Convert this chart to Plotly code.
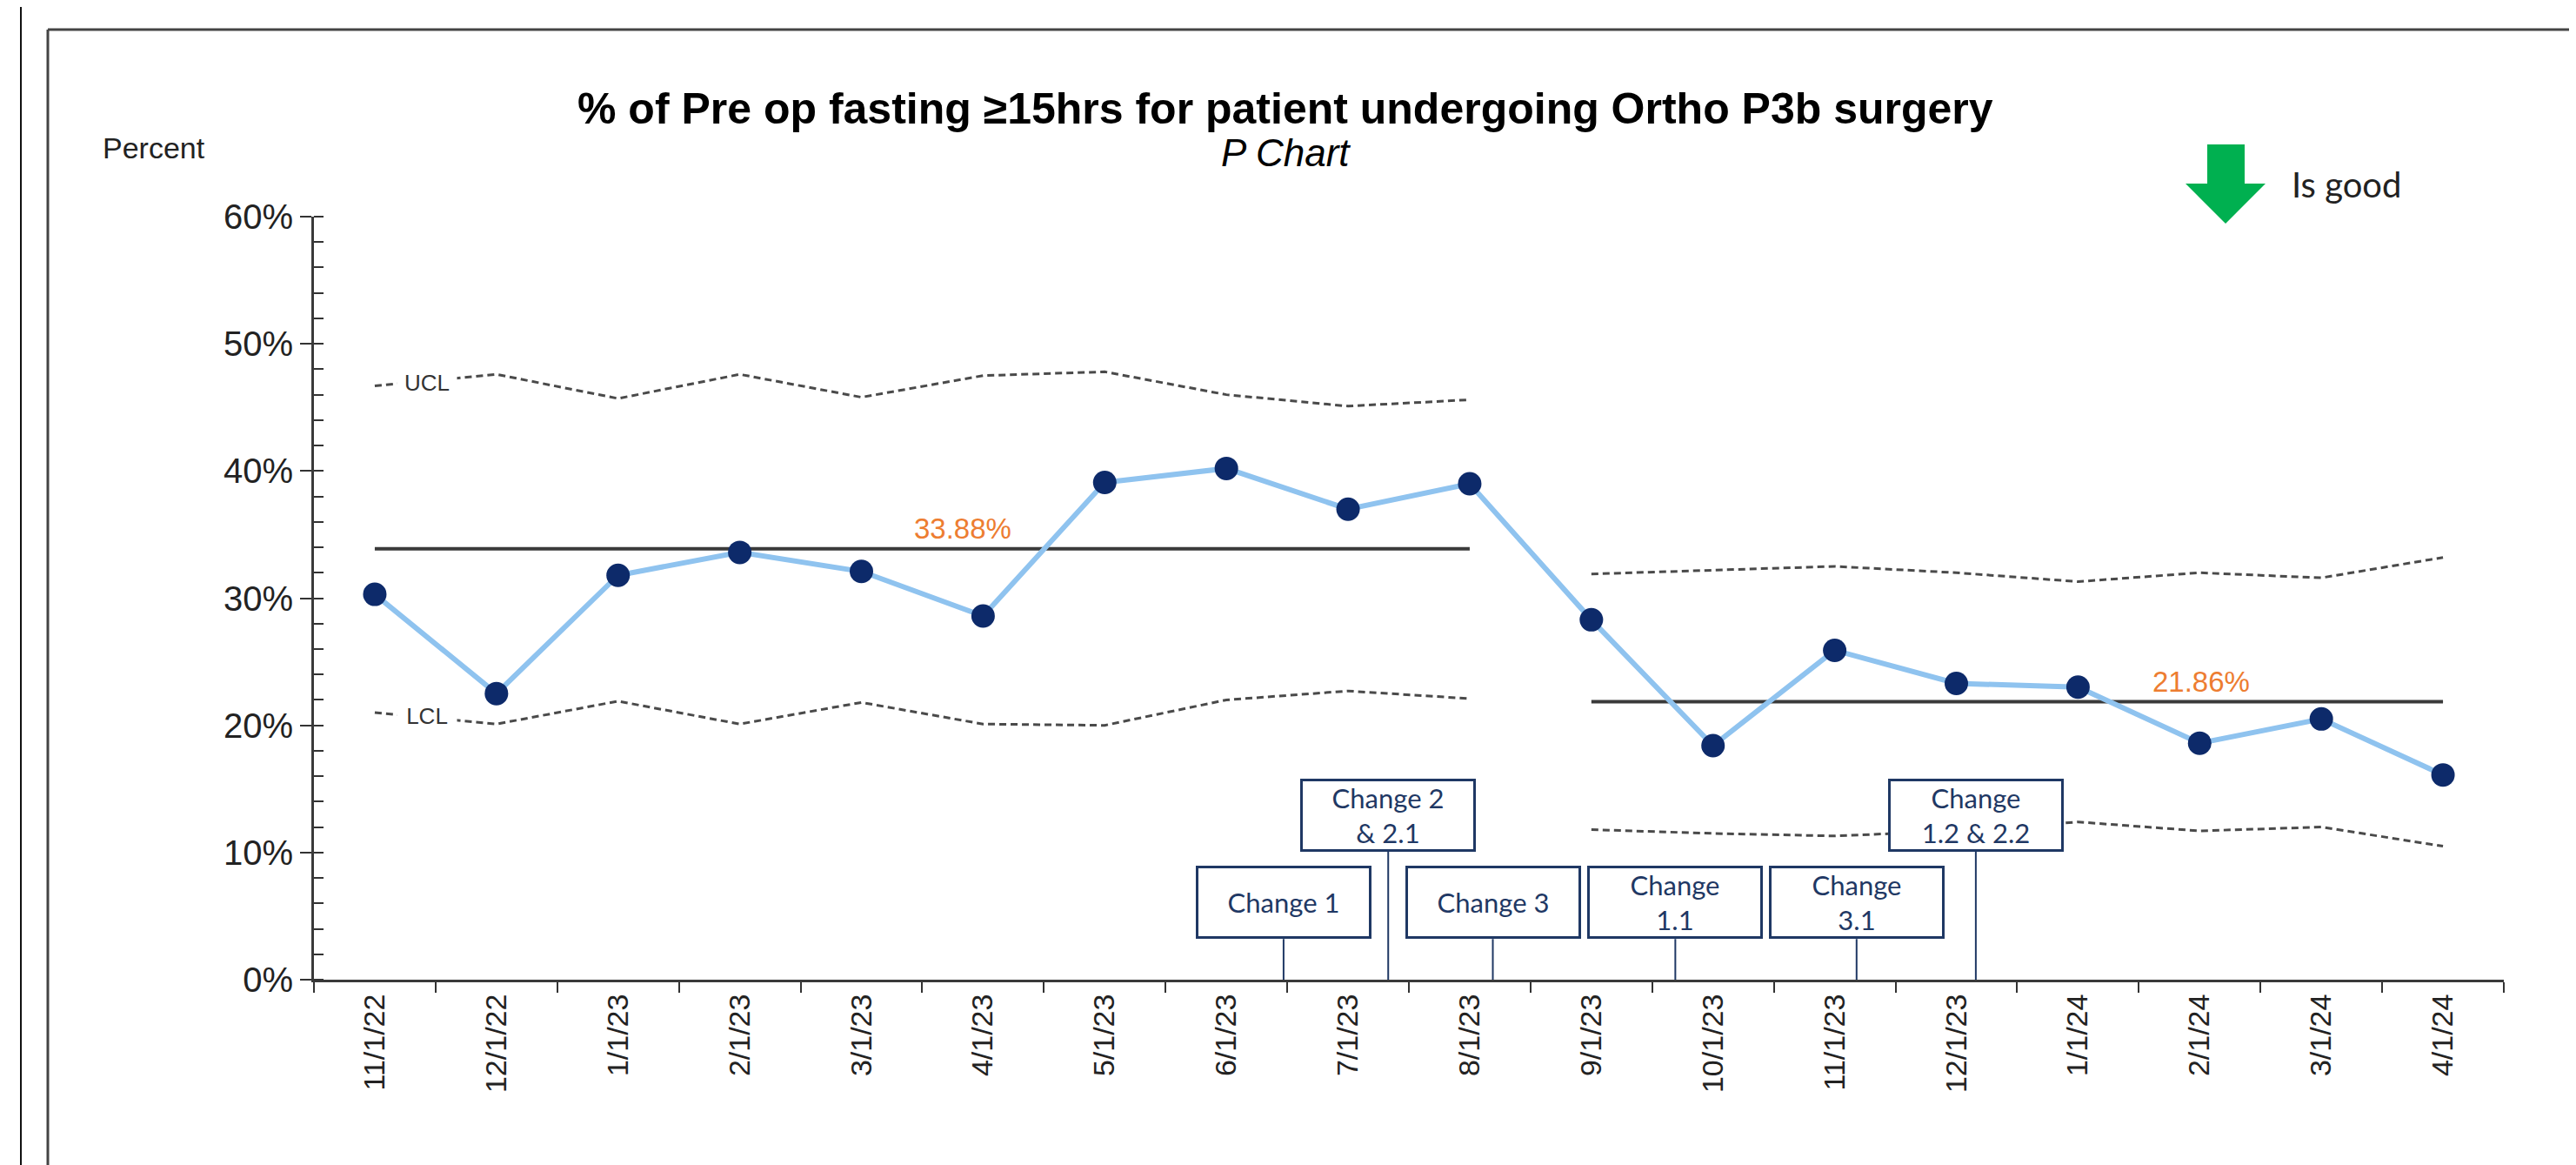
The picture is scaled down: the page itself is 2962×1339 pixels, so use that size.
import plotly.graph_objects as go

# ---------------- data ----------------
months = ["11/1/22", "12/1/22", "1/1/23", "2/1/23", "3/1/23", "4/1/23", "5/1/23", "6/1/23",
          "7/1/23", "8/1/23", "9/1/23", "10/1/23", "11/1/23", "12/1/23", "1/1/24", "2/1/24",
          "3/1/24", "4/1/24"]
percent = [30.3, 22.5, 31.8, 33.6, 32.1, 28.6, 39.1, 40.2, 37.0, 39.0,
           28.3, 18.4, 25.9, 23.3, 23.0, 18.6, 20.5, 16.1]
ucl = [46.7, 47.6, 45.7, 47.6, 45.8, 47.5, 47.8, 46.0, 45.1, 45.6,
       31.9, 32.2, 32.5, 32.0, 31.3, 32.0, 31.6, 33.2]
lcl = [21.0, 20.1, 21.9, 20.1, 21.8, 20.1, 20.0, 22.0, 22.7, 22.1,
       11.8, 11.5, 11.3, 11.7, 12.4, 11.7, 12.0, 10.5]
phase_split = 10              # phase 1 = first 10 months, phase 2 = the rest
center_values = [33.88, 21.86]
center_labels = ["33.88%", "21.86%"]

change_names = ["Change 1", "Change 2<br>& 2.1", "Change 3", "Change<br>1.1", "Change<br>3.1",
                "Change<br>1.2 & 2.2"]
change_pos = [7.47, 8.33, 9.19, 10.69, 12.18, 13.16]     # position along the month axis
change_level = ["low", "high", "low", "low", "low", "high"]

y_ticks = [0, 10, 20, 30, 40, 50, 60]

# ---------------- layout constants ----------------
W, H = 2962, 1339
OFF = 8                       # page body margin offset
# target positions (page pixels) of the plot area
PL, PR, PT, PB = 361, 2879, 249, 1126
ML = PL - OFF
MT = PT - OFF
MR = W - (PR - OFF)
MB = H - (PB - OFF)
PW, PH = PR - PL, PB - PT
FONT = "Liberation Sans, Arial, sans-serif"
BOXFONT = "Lato, Carlito, Calibri, sans-serif"
NAVY = "#1F3864"


def px(x):
    return (x - PL) / PW


def py(y):
    return (PB - y) / PH


fig = go.Figure()

p1 = months[:phase_split]
p2 = months[phase_split:]

# control limits (dashed)
for lim in (ucl, lcl):
    for xs, ys in ((p1, lim[:phase_split]), (p2, lim[phase_split:])):
        fig.add_trace(go.Scatter(x=xs, y=ys, mode="lines", hoverinfo="skip",
                                 line=dict(color="#4a4a4a", width=3, dash="8px,5px")))

# centre lines
for xs, cv in ((p1, center_values[0]), (p2, center_values[1])):
    fig.add_trace(go.Scatter(x=xs, y=[cv] * len(xs), mode="lines", hoverinfo="skip",
                             line=dict(color="#3a3a3a", width=4)))

# data
fig.add_trace(go.Scatter(x=months, y=percent, mode="lines+markers",
                         line=dict(color="#8FC3EF", width=6),
                         marker=dict(color="#0D2A6A", size=27)))

shapes = []
annotations = []

# change connectors + boxes
box_center = {"low": 6.07, "high": 12.95}
box_half = 2.87
for name, xp, lev in zip(change_names, change_pos, change_level):
    shapes.append(dict(type="line", xref="x", yref="y", x0=xp, x1=xp,
                       y0=box_center[lev] - box_half, y1=-0.45,
                       line=dict(color=NAVY, width=2)))
    annotations.append(dict(x=xp, y=box_center[lev], xref="x", yref="y", text=name,
                            xanchor="center", yanchor="middle",
                            showarrow=False, width=196, height=78, align="center",
                            valign="middle", bgcolor="white", bordercolor=NAVY,
                            borderwidth=3, borderpad=0,
                            font=dict(family=BOXFONT, size=31, color=NAVY)))

# UCL / LCL labels
for lab, yv in (("UCL", 46.9), ("LCL", 20.7)):
    annotations.append(dict(x=0.43, y=yv, xref="x", yref="y", text=lab, showarrow=False,
                            xanchor="center", yanchor="middle", bgcolor="white", width=66,
                            font=dict(family=FONT, size=26, color="#333")))

# centre line values
annotations.append(dict(x=4.83, y=35.5, xref="x", yref="y", text=center_labels[0],
                        xanchor="center", yanchor="middle", showarrow=False,
                        font=dict(family=FONT, size=33, color="#ED7D31")))
annotations.append(dict(x=15.01, y=23.45, xref="x", yref="y", text=center_labels[1],
                        xanchor="center", yanchor="middle", showarrow=False,
                        font=dict(family=FONT, size=33, color="#ED7D31")))

# titles
annotations.append(dict(x=px(1478), y=py(125), xref="paper", yref="paper",
                        xanchor="center", yanchor="middle",
                        text="<b>% of Pre op fasting ≥15hrs for patient undergoing Ortho P3b surgery</b>",
                        showarrow=False, font=dict(family=FONT, size=50, color="black")))
annotations.append(dict(x=px(1478), y=py(176), xref="paper", yref="paper",
                        xanchor="center", yanchor="middle",
                        text="<i>P Chart</i>", showarrow=False,
                        font=dict(family=FONT, size=44, color="black")))
annotations.append(dict(x=px(177), y=py(170), xref="paper", yref="paper", text="Percent",
                        xanchor="center", yanchor="middle",
                        showarrow=False, font=dict(family=FONT, size=34, color="#222")))
annotations.append(dict(x=px(2633), y=py(212), xref="paper", yref="paper", text="Is good",
                        xanchor="left", yanchor="middle", showarrow=False,
                        font=dict(family=BOXFONT, size=40, color="#222")))

# green arrow
arrow_pts = [(2538, 166), (2581, 166), (2581, 211), (2605, 211), (2559, 257), (2513, 211),
             (2538, 211)]
path = "M " + " L ".join(f"{px(a):.5f},{py(b):.5f}" for a, b in arrow_pts) + " Z"
shapes.append(dict(type="path", xref="paper", yref="paper", path=path,
                   fillcolor="#00B050", line=dict(width=0)))

# frames
shapes.append(dict(type="line", xref="paper", yref="paper", x0=px(24), x1=px(24),
                   y0=py(0), y1=py(H + 10), line=dict(color="#111", width=2)))
shapes.append(dict(type="line", xref="paper", yref="paper", x0=px(55), x1=px(55),
                   y0=py(34), y1=py(H + 10), line=dict(color="#444", width=3)))
shapes.append(dict(type="line", xref="paper", yref="paper", x0=px(55), x1=px(2961),
                   y0=py(34), y1=py(34), line=dict(color="#444", width=3)))

fig.update_layout(
    width=W, height=H, margin=dict(l=ML, r=MR, t=MT, b=MB),
    paper_bgcolor="white", plot_bgcolor="white", showlegend=False,
    shapes=shapes, annotations=annotations,
    font=dict(family=FONT, color="#222"),
)
fig.update_xaxes(type="category", categoryorder="array", categoryarray=months,
                 range=[-0.5, len(months) - 0.5], tickson="boundaries", ticks="outside",
                 ticklen=12, tickwidth=2, tickcolor="#333", tickangle=-90,
                 showline=True, linewidth=3, linecolor="#3a3a3a", showgrid=False,
                 tickfont=dict(family=FONT, size=34, color="#222"))
fig.update_yaxes(range=[0, 60], tickvals=y_ticks, ticktext=[f"{v}%" for v in y_ticks],
                 ticks="outside", ticklen=13, tickwidth=2, tickcolor="#333",
                 minor=dict(dtick=2, ticks="inside", ticklen=11, tickwidth=2, tickcolor="#333"),
                 showline=True, linewidth=3, linecolor="#3a3a3a", showgrid=False, zeroline=False,
                 tickfont=dict(family=FONT, size=40, color="#222"))

fig.write_html("out.html")
